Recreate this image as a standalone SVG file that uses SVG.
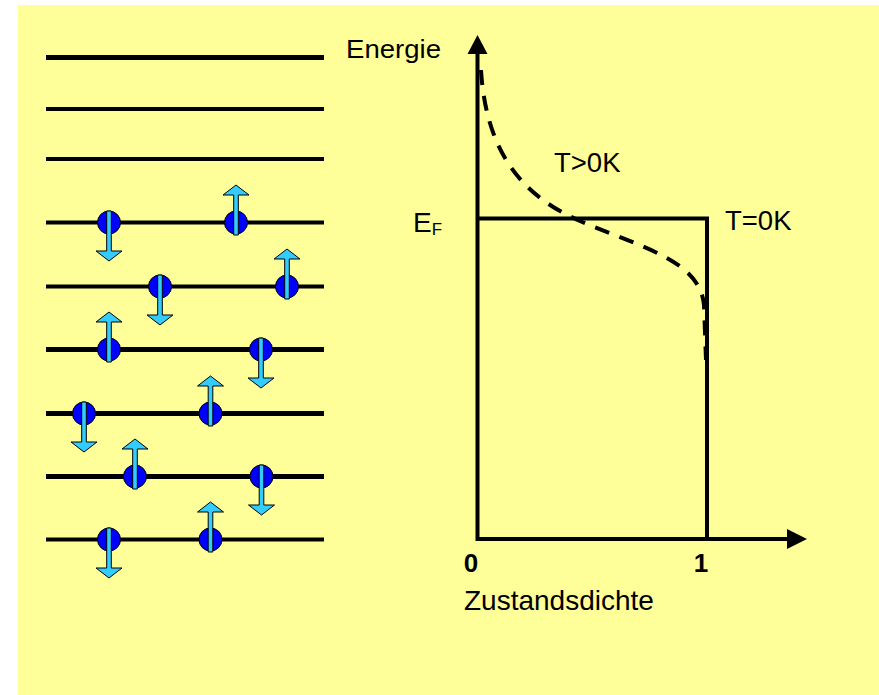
<svg xmlns="http://www.w3.org/2000/svg" xmlns:xlink="http://www.w3.org/1999/xlink" width="879" height="695" viewBox="0 0 879 695">
<style>
  .lvl { stroke: #000; fill: none; stroke-linecap: butt; }
  .ax { stroke: #000; fill: none; stroke-width: 4; }
  .t { font-family: "Liberation Sans", Arial, sans-serif; fill: #000; }
  .core { fill: #0000FF; stroke: #000; stroke-width: 1; }
  .spin { fill: #33CCFF; stroke: #000; stroke-width: 1; stroke-linejoin: miter; }
</style>
<defs>
  <g id="eDown">
    <circle class="core" cx="0" cy="0" r="11.5"/>
    <polygon class="spin" points="-2.3,-11.5 2.3,-11.5 2.3,28.5 13,28.5 0,38.5 -13,28.5 -2.3,28.5"/>
  </g>
  <g id="eUp">
    <circle class="core" cx="0" cy="0" r="11.5"/>
    <polygon class="spin" points="-2.3,12.5 2.3,12.5 2.3,-27.5 13,-27.5 0,-37.5 -13,-27.5 -2.3,-27.5"/>
  </g>
</defs>
<rect x="18" y="5" width="861" height="690" fill="#FFFF99"/>

<g id="levels">
  <line class="lvl" x1="46" y1="57.5" x2="324" y2="57.5" stroke-width="5"/>
  <line class="lvl" x1="46" y1="109" x2="324" y2="109" stroke-width="4"/>
  <line class="lvl" x1="46" y1="159" x2="324" y2="159" stroke-width="4"/>
  <line class="lvl" x1="46" y1="222.5" x2="324" y2="222.5" stroke-width="4"/>
  <line class="lvl" x1="46" y1="286.5" x2="324" y2="286.5" stroke-width="4"/>
  <line class="lvl" x1="46" y1="349.5" x2="324" y2="349.5" stroke-width="5"/>
  <line class="lvl" x1="46" y1="413.5" x2="324" y2="413.5" stroke-width="5"/>
  <line class="lvl" x1="46" y1="476.5" x2="324" y2="476.5" stroke-width="5"/>
  <line class="lvl" x1="46" y1="539.5" x2="324" y2="539.5" stroke-width="4"/>
</g>

<g id="electrons">
  <g id="e1"><use xlink:href="#eDown" href="#eDown" x="109" y="222.5"/></g>
  <g id="e2"><use xlink:href="#eUp" href="#eUp" x="236" y="222.5"/></g>
  <g id="e3"><use xlink:href="#eDown" href="#eDown" x="160" y="286.5"/></g>
  <g id="e4"><use xlink:href="#eUp" href="#eUp" x="287" y="286.5"/></g>
  <g id="e5"><use xlink:href="#eUp" href="#eUp" x="109" y="349.5"/></g>
  <g id="e6"><use xlink:href="#eDown" href="#eDown" x="261" y="349.5"/></g>
  <g id="e7"><use xlink:href="#eDown" href="#eDown" x="84" y="413.5"/></g>
  <g id="e8"><use xlink:href="#eUp" href="#eUp" x="210.5" y="413.5"/></g>
  <g id="e9"><use xlink:href="#eUp" href="#eUp" x="135" y="476.5"/></g>
  <g id="e10"><use xlink:href="#eDown" href="#eDown" x="261.5" y="476.5"/></g>
  <g id="e11"><use xlink:href="#eDown" href="#eDown" x="109" y="539.5"/></g>
  <g id="e12"><use xlink:href="#eUp" href="#eUp" x="210.5" y="539.5"/></g>
</g>

<g id="connectors">
  <line class="ax" x1="477.5" y1="541" x2="477.5" y2="50" stroke-width="3.5"/>
  <polygon points="477.5,35 487.5,54 467.5,54" fill="#000"/>
  <line class="ax" x1="476" y1="539" x2="790" y2="539"/>
  <polygon points="807,539 787,529 787,549" fill="#000"/>
  <polyline class="ax" points="477,218.5 707,218.5 707,541" stroke-width="4.5"/>
  <path d="M481,70 C486,150 520,195 580,221 S700,260 704,305 L706,360" fill="none" stroke="#000" stroke-width="4" stroke-dasharray="15,11"/>
</g>

<g id="labels">
  <text class="t" x="346" y="58" font-size="26" textLength="95" lengthAdjust="spacingAndGlyphs">Energie</text>
  <text class="t" x="554" y="171.5" font-size="27.5">T&gt;0K</text>
  <text class="t" x="725" y="230" font-size="27.5">T=0K</text>
  <text class="t" x="413" y="231.5" font-size="28">E<tspan font-size="17" dy="3.5">F</tspan></text>
  <text class="t" x="471" y="572" font-size="26" font-weight="bold" text-anchor="middle">0</text>
  <text class="t" x="701" y="572" font-size="26" font-weight="bold" text-anchor="middle">1</text>
  <text class="t" x="464" y="610" font-size="28">Zustandsdichte</text>
</g>
</svg>
